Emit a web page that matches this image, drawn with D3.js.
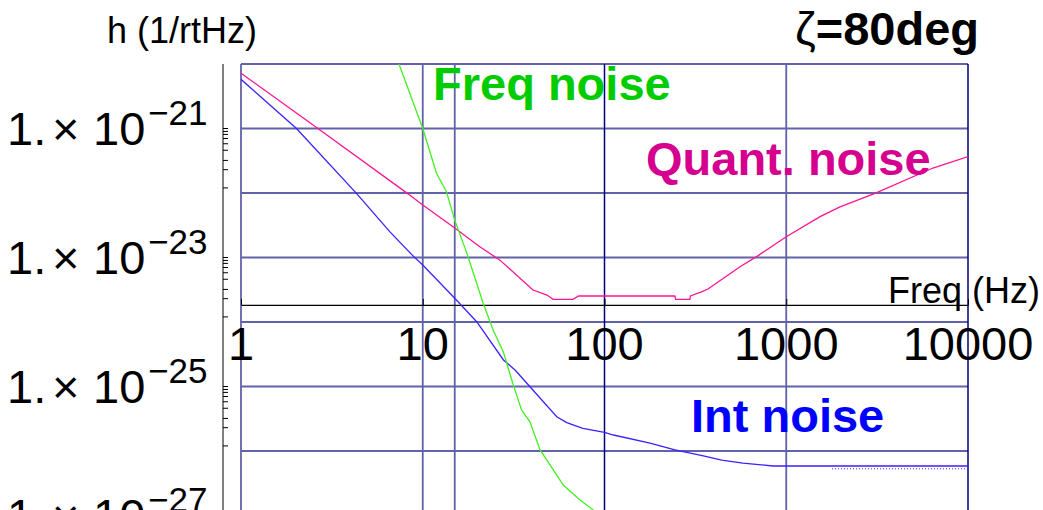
<!DOCTYPE html>
<html>
<head>
<meta charset="utf-8">
<script src="https://cdn.jsdelivr.net/npm/d3@7"></script>
<style>
body { margin: 0; background: #fff; }
svg { display: block; font-family: "Liberation Sans", Arial, sans-serif; }
</style>
</head>
<body>
<svg width="1043" height="510"></svg>
<script>
// quantum noise (magenta)
var quantF = [1, 2.65, 8.3, 10, 15, 20.6, 26.6, 40.4, 48.3, 52.1, 67, 72, 244, 246, 295, 297, 344, 371, 557, 700, 1000, 1535, 1976, 3077, 6417, 10000];
var quantH = [7.2e-21, 1.0e-21, 9.7e-23, 6.5e-23, 2.86e-23, 1.47e-23, 9.1e-24, 3.13e-24, 2.62e-24, 2.25e-24, 2.25e-24, 2.53e-24, 2.53e-24, 2.25e-24, 2.25e-24, 2.53e-24, 2.95e-24, 3.25e-24, 7.2e-24, 1.07e-23, 2.1e-23, 4.3e-23, 6.1e-23, 9.9e-23, 2.44e-22, 3.66e-22];

// intensity noise (blue)
var intF = [1, 2.02, 4.33, 6.6, 8.87, 10, 15, 19.8, 27.8, 32.2, 38.9, 54.6, 62, 76, 100, 112, 178, 244, 350, 441, 578, 845, 10000];
var intH = [5.8e-21, 1e-21, 9.8e-23, 2.5e-23, 1.05e-23, 7.65e-24, 2.33e-24, 1.01e-24, 2.58e-25, 1.8e-25, 9.9e-26, 3.4e-26, 2.75e-26, 2.25e-26, 1.95e-26, 1.77e-26, 1.32e-26, 1.04e-26, 8.4e-27, 7.2e-27, 6.5e-27, 5.85e-27, 5.85e-27];
var intDotF = [1786, 10000];
var intDotH = [5.3e-27, 5.3e-27];

// frequency noise (green)
var freqF = [7.4, 10, 11.9, 13.5, 15, 17.5, 21.5, 24.4, 27.8, 31.5, 35, 38.9, 44.2, 52.3, 59.3, 73.3, 86.9];
var freqH = [1e-20, 1e-21, 2.02e-22, 1.05e-22, 3.8e-23, 1.16e-23, 1.95e-24, 7.5e-25, 3.4e-25, 1.05e-25, 4.3e-26, 2.84e-26, 1.04e-26, 5.1e-27, 2.97e-27, 1.74e-27, 1.22e-27];

var xTicks = [1, 10, 100, 1000, 10000];
var xGridLight = [10, 15, 1000];
var xGridDark = [100, 10000];
var yGrid = [1e-21, 1e-22, 1e-23, 1e-24, 1e-25, 1e-26, 1e-27];
var yLabels = [-21, -23, -25, -27];
var yMinor = [1, 0.9, 0.81, 0.7, 0.58, 0.46, 0.32, 0.23, 0.12];
var axisH = 1.84e-24;

var svg = d3.select("svg"),
	width = +svg.attr("width"),
	height = +svg.attr("height");

var x = d3.scaleLog().domain([1, 10000]).range([241, 968]),
	y = d3.scaleLog().domain([1e-20, 1e-27]).range([64, 515.5]);

var light = "#6262aa", dark = "#00007a";

svg.append("rect").attr("width", width).attr("height", height).attr("fill", "#fff");

// grid
svg.selectAll(".hgrid")
	.data(yGrid)
	.enter().append("line")
	.attr("x1", x(1)).attr("x2", x(10000))
	.attr("y1", function(d) { return y(d); })
	.attr("y2", function(d) { return y(d); })
	.style("stroke", light).style("stroke-width", 1.8);

svg.selectAll(".vgrid")
	.data(xGridLight)
	.enter().append("line")
	.attr("x1", function(d) { return x(d); })
	.attr("x2", function(d) { return x(d); })
	.attr("y1", y(1e-20)).attr("y2", height)
	.style("stroke", light).style("stroke-width", 1.8);

// frame top and left
svg.append("line").attr("x1", x(1)).attr("x2", x(10000)).attr("y1", y(1e-20)).attr("y2", y(1e-20))
	.style("stroke", light).style("stroke-width", 1.8);
svg.append("line").attr("x1", x(1)).attr("x2", x(1)).attr("y1", y(1e-20)).attr("y2", height)
	.style("stroke", light).style("stroke-width", 1.8);

svg.selectAll(".vdark")
	.data(xGridDark)
	.enter().append("line")
	.attr("x1", function(d) { return x(d); })
	.attr("x2", function(d) { return x(d); })
	.attr("y1", y(1e-20)).attr("y2", height)
	.style("stroke", dark).style("stroke-width", 1.5);

// x axis (black line with ticks upward)
var xa = svg.append("g")
	.attr("transform", "translate(0," + y(axisH) + ")")
	.call(d3.axisTop(x).tickValues(xTicks).tickSize(6).tickSizeOuter(0).tickFormat(""));
xa.select(".domain").attr("stroke", "#000").attr("stroke-width", 1.4);
xa.selectAll(".tick line").attr("stroke", "#000");

svg.selectAll(".xlab")
	.data(xTicks)
	.enter().append("text")
	.attr("x", function(d) { return x(d); })
	.attr("y", 360)
	.attr("text-anchor", "middle")
	.style("font-size", "47px")
	.text(function(d) { return d; });

svg.append("text").attr("x", 888).attr("y", 303)
	.style("font-size", "36px").text("Freq (Hz)");

// left y axis
svg.append("line").attr("x1", 223).attr("x2", 223).attr("y1", 64).attr("y2", height)
	.style("stroke", "#808080").style("stroke-width", 2);

var minorTicks = [];
yLabels.forEach(function(e) {
	yMinor.forEach(function(m) { minorTicks.push(m * Math.pow(10, e)); });
});
svg.selectAll(".ymin")
	.data(minorTicks)
	.enter().append("line")
	.attr("x1", 223).attr("x2", 228)
	.attr("y1", function(d) { return y(d); })
	.attr("y2", function(d) { return y(d); })
	.style("stroke", "#000").style("stroke-width", 1);

var yl = svg.selectAll(".ylab")
	.data(yLabels)
	.enter().append("g")
	.attr("transform", function(d) { return "translate(0," + (y(Math.pow(10, d)) + 16) + ")"; });
yl.append("text").attr("x", 7).style("font-size", "47px").text("1.");
yl.append("text").attr("x", 52).style("font-size", "47px").text("\u00d7");
yl.append("text").attr("x", 93).style("font-size", "47px").text("10");
yl.append("text").attr("x", 148).attr("y", -20).style("font-size", "35px")
	.text(function(d) { return "\u2212" + (-d); });

svg.append("text").attr("x", 107).attr("y", 43)
	.style("font-size", "36px").text("h (1/rtHz)");

// curves
svg.append("clipPath").attr("id", "plotclip")
	.append("rect").attr("x", x(1)).attr("y", y(1e-20))
	.attr("width", x(10000) - x(1)).attr("height", height - y(1e-20));

var line = d3.line()
	.x(function(d) { return x(d[0]); })
	.y(function(d) { return y(d[1]); });

function pairs(f, h) { return f.map(function(v, i) { return [v, h[i]]; }); }

var curves = svg.append("g").attr("clip-path", "url(#plotclip)");
curves.append("path").datum(pairs(quantF, quantH)).attr("d", line)
	.style("fill", "none").style("stroke", "#ff1493").style("stroke-width", 1.3);
curves.append("path").datum(pairs(intF, intH)).attr("d", line)
	.style("fill", "none").style("stroke", "#3a22ff").style("stroke-width", 1.3);
curves.append("path").datum(pairs(intDotF, intDotH)).attr("d", line)
	.style("fill", "none").style("stroke", "#3a22ff").style("stroke-width", 1)
	.style("stroke-dasharray", "1,2");
curves.append("path").datum(pairs(freqF, freqH)).attr("d", line)
	.style("fill", "none").style("stroke", "#44ee22").style("stroke-width", 1.3);

// labels
svg.append("text").attr("x", 433).attr("y", 100)
	.style("font-size", "47px").style("font-weight", "bold").style("fill", "#00cc00")
	.text("Freq noise");
svg.append("text").attr("x", 646).attr("y", 175)
	.style("font-size", "47px").style("font-weight", "bold").style("fill", "#d6008f")
	.text("Quant. noise");
svg.append("text").attr("x", 691).attr("y", 432)
	.style("font-size", "47px").style("font-weight", "bold").style("fill", "#0000ff")
	.text("Int noise");

var title = svg.append("text").attr("x", 795).attr("y", 45).style("font-size", "47px");
title.append("tspan").text("\u03b6");
title.append("tspan").style("font-weight", "bold").text("=80deg");
</script>
</body>
</html>
